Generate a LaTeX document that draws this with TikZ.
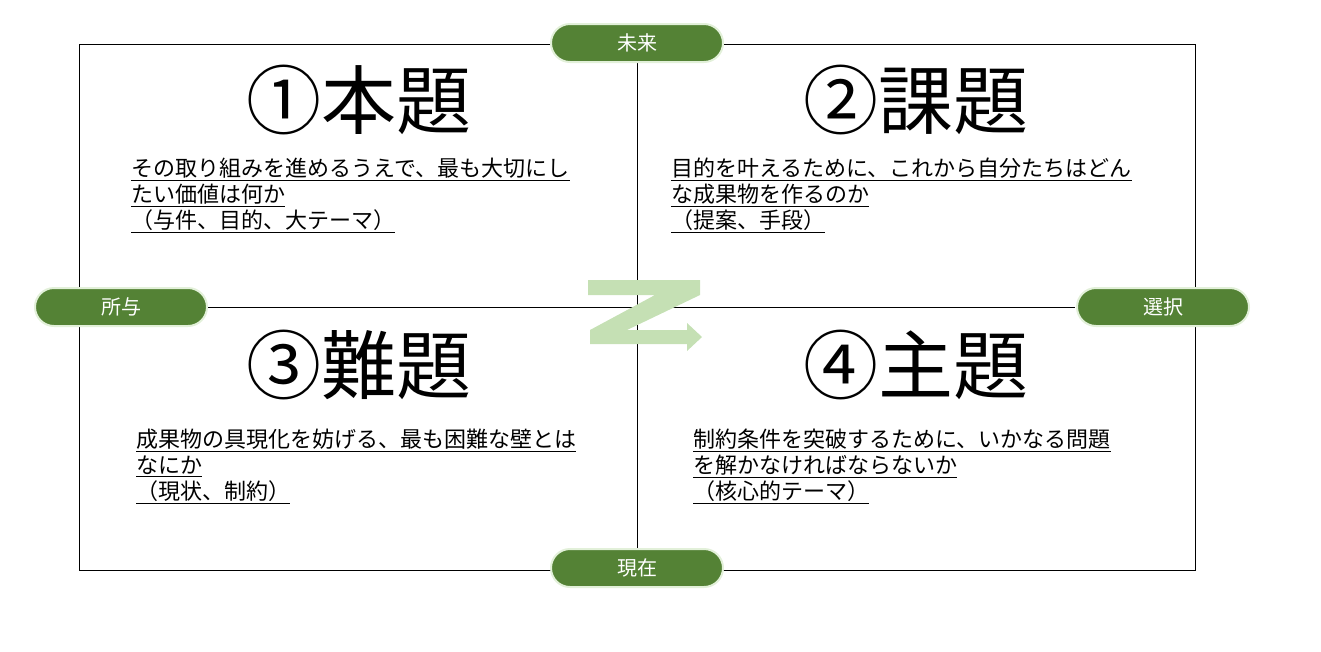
\documentclass[tikz,border=0pt]{standalone}
\usepackage{fontspec}
\newfontfamily\jpfont{Noto Sans CJK JP}
\usetikzlibrary{positioning}
\definecolor{pillgreen}{HTML}{548235}
\definecolor{pillrim}{HTML}{E2F0D9}
\definecolor{zgreen}{HTML}{C5E0B4}
\tikzset{
  pill/.style={draw=pillrim,line width=2pt,fill=pillgreen,text=white,rounded corners=19pt,
    minimum width=172pt,minimum height=38pt,inner sep=0pt,font=\jpfont\fontsize{20}{22}\selectfont},
  title/.style={inner sep=0pt,font=\jpfont\fontsize{75}{80}\selectfont},
  note/.style={anchor=north west,inner sep=0pt,align=left,font=\jpfont\fontsize{22}{26}\selectfont}
}

\begin{document}
\begin{tikzpicture}[x=1pt,y=-1pt]
\useasboundingbox (0,0) rectangle (1321,651);
% frame and axes
\draw[line width=1pt] (79,44) rectangle (1195,570);
\coordinate (vtop) at (637,62);
\coordinate (vbot) at (637,549);
\coordinate (hleft) at (207,307);
\coordinate (hright) at (1075,307);
\draw[line width=1pt] (vtop) -- (vbot);
\draw[line width=1pt] (hleft) -- (hright);
% Z arrow
\fill[zgreen] (588,280) -- (700,280) -- (700,295) -- (627,330) -- (687,330) -- (687,323)
  -- (702,337) -- (687,351) -- (687,344) -- (590,344) -- (590,330) -- (655,295) -- (588,295) -- cycle;
% axis labels
\node[pill] (future) at (637,43) {未来};
\node[pill] (now) at (637,568) {現在};
\node[pill] (given) at (121,307) {所与};
\node[pill] (choice) at (1163,307) {選択};
% quadrant titles
\node[title] (t1) at (359,100) {①本題};
\node[title] (t2) at (916,100) {②課題};
\node[title] (t3) at (359,365) {③難題};
\node[title] (t4) at (916,365) {④主題};
% quadrant notes
\node[note] (n1) at (131,158) {\underline{その取り組みを進めるうえで、最も大切にし}\\
  \underline{たい価値は何か}\\ \underline{（与件、目的、大テーマ）}};
\node[note] (n2) at (671,158) {\underline{目的を叶えるために、これから自分たちはどん}\\
  \underline{な成果物を作るのか}\\ \underline{（提案、手段）}};
\node[note] (n3) at (136,429) {\underline{成果物の具現化を妨げる、最も困難な壁とは}\\
  \underline{なにか}\\ \underline{（現状、制約）}};
\node[note] (n4) at (693,429) {\underline{制約条件を突破するために、いかなる問題}\\
  \underline{を解かなければならないか}\\ \underline{（核心的テーマ）}};
\end{tikzpicture}
\end{document}
